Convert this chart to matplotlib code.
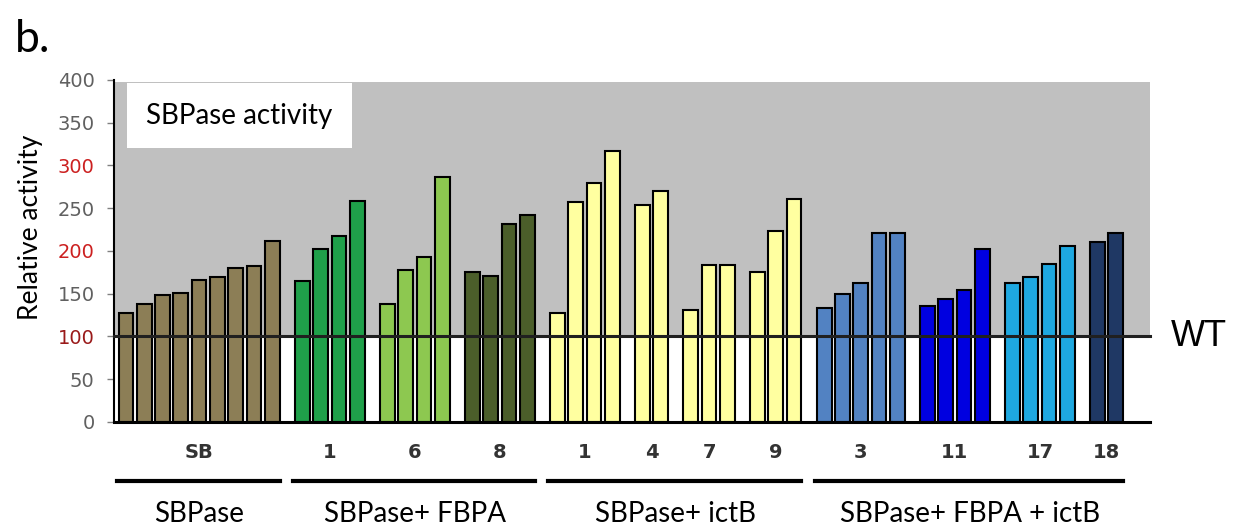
#Bar chart of SBPase activity in the transgenic lines
#Values

import matplotlib.pyplot as plt
import matplotlib.transforms as transforms
import numpy as np

#Line names under each group of bars
groups = ['SB', '1', '6', '8', '1', '4', '7', '9', '3', '11', '17', '18']

#Relative activity (WT = 100) for each plant in each line
sb = [127, 138, 148, 151, 166, 170, 180, 182, 212]
fb1 = [165, 202, 217, 258]
fb6 = [138, 178, 193, 287]
fb8 = [176, 171, 232, 242]
ic1 = [127, 257, 279, 317]
ic4 = [254, 270]
ic7 = [131, 184, 184]
ic9 = [176, 223, 261]
fi3 = [133, 150, 163, 221, 221]
fi11 = [136, 144, 154, 202]
fi17 = [163, 170, 185, 206]
fi18 = [210, 221]
values = [sb, fb1, fb6, fb8, ic1, ic4, ic7, ic9, fi3, fi11, fi17, fi18]

#Which construct each line belongs to
constructs = ['SBPase', 'SBPase+ FBPA', 'SBPase+ FBPA', 'SBPase+ FBPA',
              'SBPase+ ictB', 'SBPase+ ictB', 'SBPase+ ictB', 'SBPase+ ictB',
              'SBPase+ FBPA + ictB', 'SBPase+ FBPA + ictB', 'SBPase+ FBPA + ictB', 'SBPase+ FBPA + ictB']

colours = ['#8c7e56', '#1fa04a', '#8dc850', '#4b5e2a',
           '#ffffa0', '#ffffa0', '#ffffa0', '#ffffa0',
           '#5282c2', '#0000e0', '#1ea8e0', '#1f3864']

wt = 100
yticks = [0, 50, 100, 150, 200, 250, 300, 350, 400]
ytick_colours = ['#606060', '#606060', '#9a1a1a', '#606060', '#cc2020',
                 '#606060', '#cc2020', '#606060', '#606060']

fig = plt.figure(figsize=(12.43, 5.29), dpi=100)
ax = fig.add_axes([0.0917, 0.2023, 0.8333, 0.6465])

#Extra space between lines, in bar widths
gap = 0.65
i = 0
centres = []
spans = {}
for g, vals in enumerate(values):
    x = np.arange(i, i + len(vals)) + gap * g
    ax.bar(x, vals, width=0.8, color=colours[g], edgecolor='black', linewidth=1.5, zorder=3)
    centres.append(x.mean())
    c = constructs[g]
    if c in spans:
        spans[c][1] = x[-1]
    else:
        spans[c] = [x[0], x[-1]]
    i += len(vals)

#grey above WT, white below
ax.axhspan(wt, 398, color='#c0c0c0', zorder=0, linewidth=0)
ax.axhline(wt, color='#202020', linewidth=2.2, zorder=4, clip_on=False)

ax.set_ylim(0, 400)
ax.set_xlim(-0.656, centres[-1] + 0.5 + 1.86)

ax.set_yticks(yticks)
ax.set_yticklabels([str(t) for t in yticks], fontsize=14, family='DejaVu Sans')
for lab, col in zip(ax.get_yticklabels(), ytick_colours):
    lab.set_color(col)
ax.tick_params(axis='y', length=5, color='#808080', pad=9, width=1)

ax.set_xticks(centres)
ax.set_xticklabels(groups, fontsize=14, fontweight='bold', color='#333333', family='DejaVu Sans')
ax.tick_params(axis='x', length=0, pad=15)

ax.spines['top'].set_visible(False)
ax.spines['right'].set_visible(False)
ax.spines['left'].set_linewidth(1.5)
ax.spines['bottom'].set_linewidth(2.2)
ax.spines['bottom'].set_zorder(5)

#Title box
ax.text(0.031, 0.895, 'SBPase activity', transform=ax.transAxes, fontsize=20,
        family='Lato', va='center', ha='left', zorder=6,
        bbox=dict(facecolor='white', edgecolor='none', pad=14))

ax.text(1.02, wt, 'WT', transform=transforms.blended_transform_factory(ax.transAxes, ax.transData),
        fontsize=26, family='Liberation Sans', va='center', ha='left')

#Brackets under the construct groups
trans = transforms.blended_transform_factory(ax.transData, fig.transFigure)
for c, (a, b) in spans.items():
    ax.plot([a - 0.5, b + 0.4], [0.0907, 0.0907], color='black', linewidth=3,
            transform=trans, clip_on=False)
    ax.text((a + b) / 2, 0.028, c, transform=trans, fontsize=20, family='Lato',
            ha='center', va='center')

fig.text(31 / 1243, 1 - 227 / 529, 'Relative activity', rotation=90, fontsize=19,
         family='Lato', ha='center', va='center')
fig.text(0.012, 0.925, 'b.', fontsize=32, family='Lato', ha='left', va='center')

fig.savefig('out.png', dpi=100)
